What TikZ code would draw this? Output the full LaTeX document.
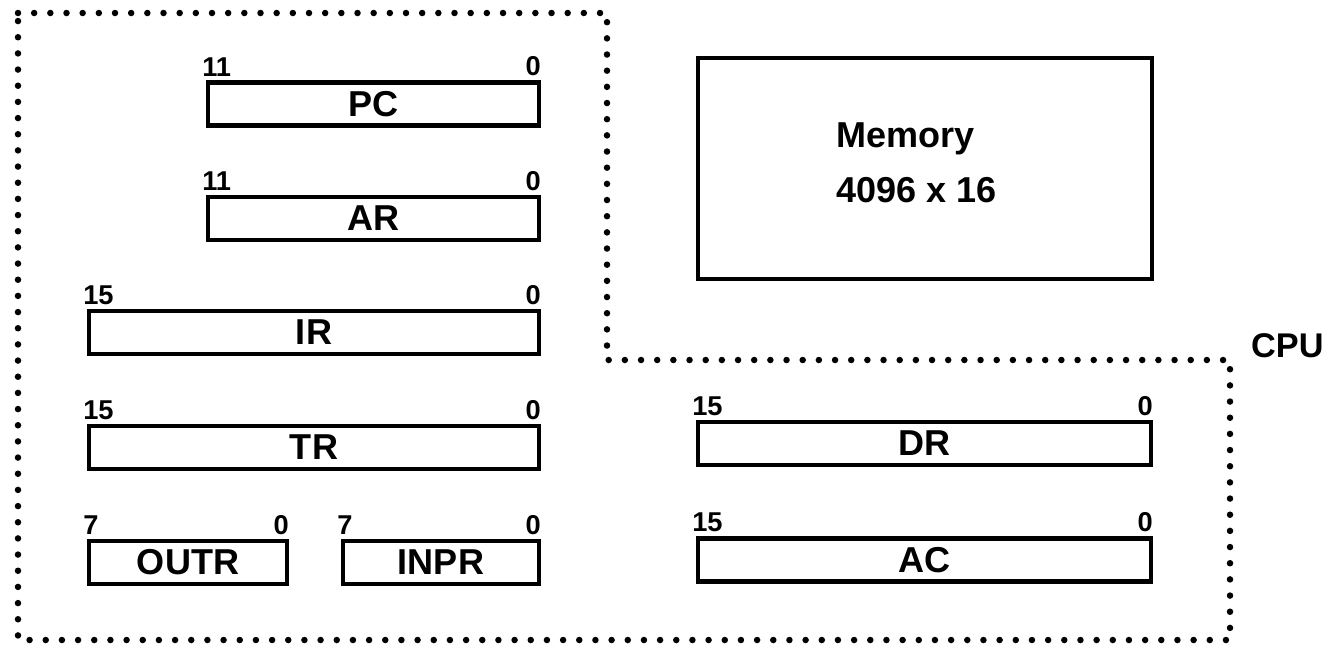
\documentclass[tikz,border=0pt]{standalone}
\usepackage{fontspec}
\setmainfont{Liberation Sans}
\begin{document}
\begin{tikzpicture}[line join=miter, font=\bfseries,
		reg/.style={draw, line width=2.3pt, minimum height=0.86cm, inner sep=0pt, font=\fontsize{20.5}{20.5}\selectfont\bfseries},
		bitno/.style={inner sep=0pt, yshift=0.08cm, font=\fontsize{15.5}{15.5}\selectfont\bfseries},
		dots/.style={line width=3.7pt, line cap=round, dash pattern=on 0pt off 9.2pt}]
			\useasboundingbox (0,0) rectangle (26.56,-12.92);
			
			% CPU boundary
			\coordinate (P1) at (0.36,-0.26);
			\coordinate (P2) at (12.14,-0.26);
			\coordinate (P3) at (12.14,-7.2);
			\coordinate (P4) at (24.6,-7.2);
			\coordinate (P5) at (24.6,-12.8);
			\coordinate (P6) at (0.36,-12.8);
			\draw[dots] (P1) -- (P2) -- (P3) -- (P4) -- (P5) -- (P6) -- cycle;
			\node[anchor=west, font=\fontsize{19.5}{19.5}\selectfont\bfseries] (cpu) at (24.9,-6.92) {CPU};
			
			% registers
			\node[reg, minimum width=6.62cm] (pc) at (7.47,-2.08) {PC};
			\node[reg, minimum width=6.62cm] (ar) at (7.47,-4.37) {AR};
			\node[reg, minimum width=9.0cm] (ir) at (6.28,-6.65) {IR};
			\node[reg, minimum width=9.0cm] (tr) at (6.28,-8.95) {TR};
			\node[reg, minimum width=3.96cm] (outr) at (3.76,-11.25) {OUTR};
			\node[reg, minimum width=3.92cm] (inpr) at (8.82,-11.25) {INPR};
			\node[reg, minimum width=9.06cm] (dr) at (18.49,-8.87) {DR};
			\node[reg, minimum width=9.06cm] (ac) at (18.49,-11.2) {AC};
			
			% bit numbers
			\foreach \r/\hi in {pc/11, ar/11, ir/15, tr/15, outr/7, inpr/7, dr/15, ac/15} {
				\node[bitno, anchor=south west, xshift=-0.08cm] (\r-hi) at (\r.north west) {\hi};
				\node[bitno, anchor=south east] (\r-lo) at (\r.north east) {0};
			}
			
			% memory
			\node[draw, line width=2.3pt, minimum width=9.08cm, minimum height=4.42cm] (mem) at (18.5,-3.37) {};
			\node[anchor=base west, inner sep=0pt, font=\fontsize{20.5}{20.5}\selectfont\bfseries] (memname) at (16.72,-2.94) {Memory};
			\node[anchor=base west, inner sep=0pt, font=\fontsize{20.5}{20.5}\selectfont\bfseries] (memsize) at (16.72,-4.04) {4096 x 16};
		\end{tikzpicture}
\end{document}
